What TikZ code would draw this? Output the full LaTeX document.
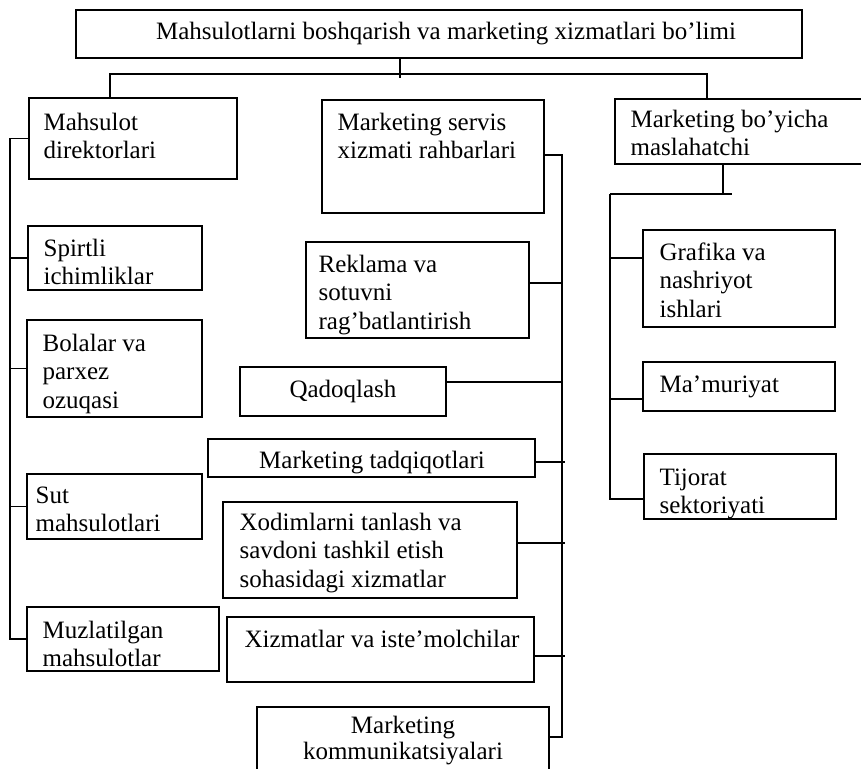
\documentclass[tikz,border=0pt]{standalone}
\usepackage{fontspec}
\setmainfont{Liberation Serif}
\usetikzlibrary{calc,fit}
\newcommand\mlL[1]{\begin{tabular}[t]{@{}l@{}}#1\end{tabular}}
\newcommand\mlC[1]{\begin{tabular}[t]{@{}c@{}}#1\end{tabular}}
\begin{document}
\begin{tikzpicture}[x=1pt,y=-1pt,line width=1.2pt,
  boxn/.style={draw,rectangle,inner sep=0pt},
  txt/.style={inner sep=0pt,font=\fontsize{25}{28.5}\selectfont}]
\useasboundingbox (0,0) rectangle (861,768);
\clip (0,0) rectangle (861,768);
% boxes
\node[boxn,fit={(76,10) (802,58)}] (top) {};
\node[boxn,fit={(29,98) (237,179)}] (md) {};
\node[boxn,fit={(28,226) (202,290)}] (sp) {};
\node[boxn,fit={(27,320) (202,417)}] (bo) {};
\node[boxn,fit={(27,474) (202,539)}] (su) {};
\node[boxn,fit={(27,607) (219,671)}] (mz) {};
\node[boxn,fit={(322,100) (544,213)}] (ms) {};
\node[boxn,fit={(306,242) (529,338)}] (re) {};
\node[boxn,fit={(240,367) (446,416)}] (qa) {};
\node[boxn,fit={(208,439) (535,477)}] (mt) {};
\node[boxn,fit={(223,502) (517,598)}] (xo) {};
\node[boxn,fit={(227,617) (534,682)}] (xi) {};
\node[boxn,fit={(257,707) (549,790)}] (mk) {};
\node[boxn,fit={(615,99) (880,164)}] (mb) {};
\node[boxn,fit={(643,230) (835,327)}] (gr) {};
\node[boxn,fit={(643,362) (835,411)}] (ma) {};
\node[boxn,fit={(644,454) (836,519)}] (ti) {};
% texts
\node[txt,anchor=base] (topt) at (446,40) {Mahsulotlarni boshqarish va marketing xizmatlari bo’limi};
\node[txt,anchor=base west] (mdt) at (43,130) {\mlL{Mahsulot\\direktorlari}};
\node[txt,anchor=base west] (spt) at (43,256) {\mlL{Spirtli\\ichimliklar}};
\node[txt,anchor=base west] (bot) at (42,351) {\mlL{Bolalar va\\parxez\\ozuqasi}};
\node[txt,anchor=base west] (sut) at (35,503) {\mlL{Sut\\mahsulotlari}};
\node[txt,anchor=base west] (mzt) at (42,638) {\mlL{Muzlatilgan\\mahsulotlar}};
\node[txt,anchor=base west] (mst) at (337,130) {\mlL{Marketing servis\\xizmati rahbarlari}};
\node[txt,anchor=base west] (ret) at (318,272) {\mlL{Reklama va\\sotuvni\\rag’batlantirish}};
\node[txt,anchor=base] (qat) at (343,397) {Qadoqlash};
\node[txt,anchor=base] (mtt) at (372,468) {Marketing tadqiqotlari};
\node[txt,anchor=base west] (xot) at (239,530) {\mlL{Xodimlarni tanlash va\\savdoni tashkil etish\\sohasidagi xizmatlar}};
\node[txt,anchor=base] (xit) at (382,647) {Xizmatlar va iste’molchilar};
\node[txt,anchor=base,font=\fontsize{25}{26}\selectfont] (mkt) at (403,733) {\mlC{Marketing\\kommunikatsiyalari}};
\node[txt,anchor=base west] (mbt) at (630,127) {\mlL{Marketing bo’yicha\\maslahatchi}};
\node[txt,anchor=base west] (grt) at (659,260) {\mlL{Grafika va\\nashriyot\\ishlari}};
\node[txt,anchor=base west] (mat) at (659,392) {Ma’muriyat};
\node[txt,anchor=base west] (tit) at (659,485) {\mlL{Tijorat\\sektoriyati}};
% junction coordinates
\coordinate (jT) at (400,74);
\coordinate (hl) at (110,74);
\coordinate (hr) at (707,74);
\coordinate (L) at (10,0);
\coordinate (M) at (562,0);
\coordinate (R) at (610,0);
\coordinate (rk) at (723,194);
% top connectors
\draw (top.south -| jT) -- ($(jT)+(0,4)$);
\draw (md.north -| hl) -- (hl) -- (hr) -- (mb.north -| hr);
% left spine
\draw (md.west) -- (md.west -| L) -- (mz.west -| L) -- (mz.west);
\foreach \n in {sp,bo,su} \draw (\n.west) -- (\n.west -| L);
% middle spine
\draw (ms.east |- 0,155) -- (M |- 0,155) -- (M |- 0,737) -- (mk.east |- 0,737);
\draw (re.east |- 0,283) -- (M |- 0,283);
\draw (qa.east |- 0,382) -- (M |- 0,382);
\draw (mt.east |- 0,462) -- ($(M |- 0,462)+(3,0)$);
\draw (xo.east |- 0,543) -- ($(M |- 0,543)+(3,0)$);
\draw (xi.east |- 0,656) -- ($(M |- 0,656)+(3,0)$);
% right spine
\draw (mb.south -| rk) -- (rk);
\draw (R |- rk) -- ($(rk)+(9,0)$);
\draw (R |- rk) -- (R |- 0,499) -- (ti.west |- 0,499);
\draw (gr.west |- 0,258) -- (R |- 0,258);
\draw (ma.west |- 0,399) -- (R |- 0,399);
\end{tikzpicture}
\end{document}
